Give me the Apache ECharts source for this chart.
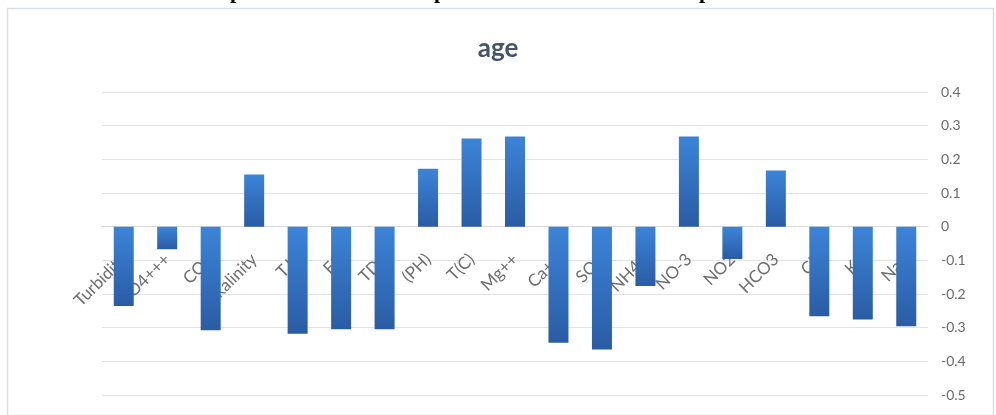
<!DOCTYPE html>
<html>
<head>
<meta charset="utf-8">
<script src="https://cdn.jsdelivr.net/npm/echarts@6/dist/echarts.min.js"></script>
<style>
  html, body { margin: 0; padding: 0; background: #ffffff; }
  #chart { width: 996px; height: 415px; }
</style>
</head>
<body>
<div id="chart"></div>
<script>
// Correlation of each water-quality parameter with age
const categories = ['Turbidity', 'PO4+++', 'CO3', 'Alkalinity', 'T.H', 'EC', 'TDS', '(PH)', 'T(C)', 'Mg++',
  'Ca++', 'SO4', 'NH4+', 'NO-3', 'NO2', 'HCO3', 'Cl-', 'K+', 'Na+'];
const ageValues = [-0.236, -0.067, -0.308, 0.155, -0.318, -0.305, -0.305, 0.172, 0.262, 0.268,
  -0.345, -0.365, -0.176, 0.268, -0.096, 0.167, -0.266, -0.276, -0.296];
const yMin = -0.5;
const yMax = 0.4;
const yStep = 0.1;
const chartTitle = 'age';
// Bold heading line sitting just above the chart box (only its descenders reach the page)
const headingLetters = ['p', 'p', 'p'];

const chart = echarts.init(document.getElementById('chart'), null, { renderer: 'canvas' });

const headingX = [236, 440, 705];
const headingGraphics = headingLetters.map((ch, i) => ({
  type: 'text',
  left: headingX[i] - 6,
  top: -19,
  silent: true,
  style: {
    text: ch,
    fill: '#000000',
    font: 'bold 22px "Liberation Serif"'
  }
}));

chart.setOption({
  animation: false,
  backgroundColor: '#ffffff',
  title: {
    text: chartTitle,
    left: 'center',
    top: 31,
    textStyle: {
      fontFamily: 'Lato',
      fontWeight: 'bold',
      fontSize: 26,
      color: '#44546a'
    }
  },
  graphic: [
    {
      type: 'rect',
      left: 5,
      top: 6,
      silent: true,
      shape: { width: 986, height: 407 },
      style: { fill: 'none', stroke: '#d9dee5', lineWidth: 1.5 }
    }
  ].concat(headingGraphics),
  grid: { left: 102, right: 68, top: 92, bottom: 20, containLabel: false, outerBoundsMode: 'none' },
  xAxis: {
    type: 'category',
    data: categories,
    boundaryGap: true,
    offset: 0,
    axisLine: { show: true, onZero: false, lineStyle: { color: '#d9d9d9', width: 1 } },
    axisTick: { show: false },
    axisLabel: {
      interval: 0,
      rotate: 45,
      margin: 30,
      color: '#6f6f6f',
      fontFamily: 'Lato',
      fontSize: 17
    },
    splitLine: { show: false }
  },
  yAxis: {
    type: 'value',
    position: 'right',
    min: yMin,
    max: yMax,
    interval: yStep,
    axisLine: { show: false },
    axisTick: { show: false },
    axisLabel: {
      margin: 13,
      color: '#6b6b6b',
      fontFamily: 'Lato',
      fontSize: 14,
      formatter: v => String(Math.round(v * 10) / 10)
    },
    splitLine: { lineStyle: { color: '#e3e3e3', width: 1 } }
  },
  series: [{
    type: 'bar',
    data: ageValues,
    barWidth: '46%',
    itemStyle: {
      color: new echarts.graphic.LinearGradient(0, 0, 0, 1, [
        { offset: 0, color: '#3c84d8' },
        { offset: 1, color: '#2a5ca4' }
      ]),
      shadowColor: 'rgba(0,0,0,0.28)',
      shadowBlur: 3,
      shadowOffsetX: 1,
      shadowOffsetY: 1
    }
  }]
});

// Move the category axis up to the value axis' zero line, using the value scale itself
const zeroY = chart.convertToPixel({ yAxisIndex: 0 }, 0);
const floorY = chart.convertToPixel({ yAxisIndex: 0 }, yMin);
chart.setOption({ xAxis: { offset: zeroY - floorY } });
</script>
</body>
</html>
